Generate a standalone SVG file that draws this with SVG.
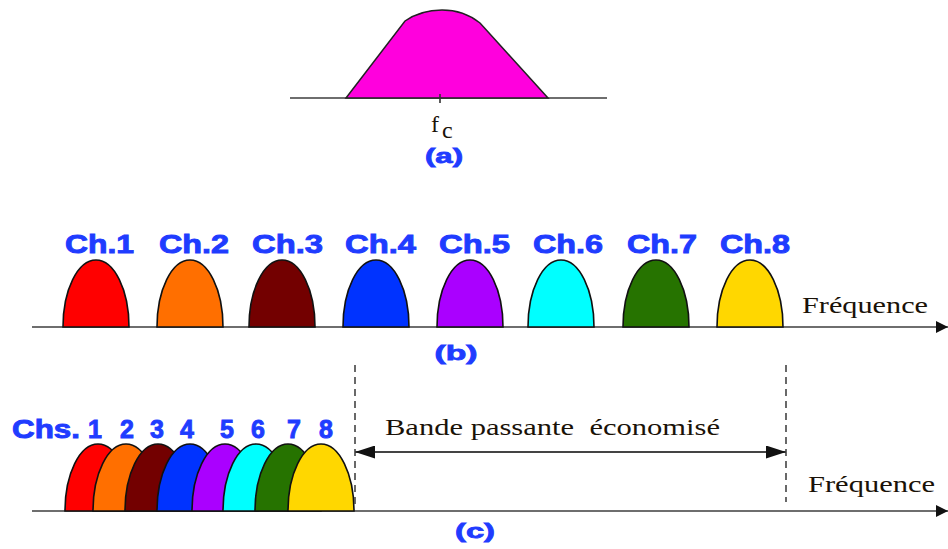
<svg xmlns="http://www.w3.org/2000/svg" width="948" height="549" viewBox="0 0 948 549">
<style>
.axis{stroke:#6e6e6e;stroke-width:2.2;fill:none}
.bell{stroke:#111;stroke-width:1.6}
.lbl{font-family:"Liberation Sans",Arial,sans-serif;font-weight:bold;font-size:25px;fill:#1f3cff;stroke:#1f3cff;stroke-width:0.9}
.cap{font-family:"Liberation Sans",Arial,sans-serif;font-weight:bold;font-size:21px;fill:#1f3cff;stroke:#1f3cff;stroke-width:0.8}
.ser{font-family:"Liberation Serif","Times New Roman",serif;font-size:24px;fill:#1a1208;white-space:pre}
.dash{stroke:#444;stroke-width:1.6;stroke-dasharray:7,5;fill:none}
</style>
<defs>
<path id="bell" d="M0,0 A33,67 0 0 1 66,0 Z"/>
<marker id="ah" markerWidth="12" markerHeight="12" refX="12" refY="6" orient="auto" markerUnits="userSpaceOnUse" viewBox="0 0 12 12">
<path d="M0,0 L12,6 L0,12 Z" fill="#111"/>
</marker>
<marker id="ah2" markerWidth="20" markerHeight="13" refX="20" refY="6.5" orient="auto-start-reverse" markerUnits="userSpaceOnUse" viewBox="0 0 20 13">
<path d="M0,0 L20,6.5 L0,13 Z" fill="#111"/>
</marker>
</defs>

<!-- (a) -->
<g id="panel-a">
<line class="axis" x1="290" y1="98" x2="607" y2="98"/>
<path d="M346,98 L405,21 C418,12 430,10 442,10 C458,10 470,15 480,23 L548,98 Z" fill="#ff00dd" stroke="#222" stroke-width="1.5"/>
<line x1="440" y1="94" x2="440" y2="103" stroke="#333" stroke-width="1.6"/>
<text x="431" y="132" class="ser" font-size="25">f</text>
<text x="442" y="138" class="ser" font-size="19" fill="#1a2a40">c</text>
<text x="444" y="163" class="cap" text-anchor="middle" textLength="38" lengthAdjust="spacingAndGlyphs">(a)</text>
</g>

<!-- (b) -->
<g id="panel-b">
<line class="axis" x1="32" y1="327" x2="948" y2="327" marker-end="url(#ah)"/>
<use href="#bell" x="63" y="327" class="bell" fill="#ff0000"/>
<use href="#bell" x="157" y="327" class="bell" fill="#ff6f00"/>
<use href="#bell" x="249" y="327" class="bell" fill="#730000"/>
<use href="#bell" x="343" y="327" class="bell" fill="#0033ff"/>
<use href="#bell" x="437" y="327" class="bell" fill="#aa00ff"/>
<use href="#bell" x="528" y="327" class="bell" fill="#00ffff"/>
<use href="#bell" x="623" y="327" class="bell" fill="#267300"/>
<use href="#bell" x="717" y="327" class="bell" fill="#ffd700"/>
<text class="lbl" x="65" y="253" textLength="69" lengthAdjust="spacingAndGlyphs">Ch.1</text>
<text class="lbl" x="159" y="253" textLength="70" lengthAdjust="spacingAndGlyphs">Ch.2</text>
<text class="lbl" x="252" y="253" textLength="71" lengthAdjust="spacingAndGlyphs">Ch.3</text>
<text class="lbl" x="345" y="253" textLength="71" lengthAdjust="spacingAndGlyphs">Ch.4</text>
<text class="lbl" x="439" y="253" textLength="71" lengthAdjust="spacingAndGlyphs">Ch.5</text>
<text class="lbl" x="533" y="253" textLength="70" lengthAdjust="spacingAndGlyphs">Ch.6</text>
<text class="lbl" x="627" y="253" textLength="70" lengthAdjust="spacingAndGlyphs">Ch.7</text>
<text class="lbl" x="720" y="253" textLength="70" lengthAdjust="spacingAndGlyphs">Ch.8</text>
<text class="ser" x="802" y="313" textLength="126" lengthAdjust="spacingAndGlyphs">Fréquence</text>
<text class="cap" x="456" y="360" text-anchor="middle" textLength="43" lengthAdjust="spacingAndGlyphs">(b)</text>
</g>

<!-- (c) -->
<g id="panel-c">
<line class="axis" x1="32" y1="511" x2="948" y2="511" marker-end="url(#ah)"/>
<use href="#bell" x="65" y="511" class="bell" fill="#ff0000"/>
<use href="#bell" x="93" y="511" class="bell" fill="#ff6f00"/>
<use href="#bell" x="125" y="511" class="bell" fill="#730000"/>
<use href="#bell" x="157" y="511" class="bell" fill="#0033ff"/>
<use href="#bell" x="192" y="511" class="bell" fill="#aa00ff"/>
<use href="#bell" x="223" y="511" class="bell" fill="#00ffff"/>
<use href="#bell" x="255" y="511" class="bell" fill="#267300"/>
<use href="#bell" x="288" y="511" class="bell" fill="#ffd700"/>
<text class="lbl" x="12" y="438" textLength="68" lengthAdjust="spacingAndGlyphs">Chs.</text>
<text class="lbl" x="95" y="438" text-anchor="middle">1</text>
<text class="lbl" x="127" y="438" text-anchor="middle">2</text>
<text class="lbl" x="157" y="438" text-anchor="middle">3</text>
<text class="lbl" x="187" y="438" text-anchor="middle">4</text>
<text class="lbl" x="227" y="438" text-anchor="middle">5</text>
<text class="lbl" x="258" y="438" text-anchor="middle">6</text>
<text class="lbl" x="294" y="438" text-anchor="middle">7</text>
<text class="lbl" x="326" y="438" text-anchor="middle">8</text>
<text class="ser" x="808" y="492" textLength="127" lengthAdjust="spacingAndGlyphs">Fréquence</text>
<text class="ser" x="385" y="435" font-size="25" textLength="335" lengthAdjust="spacingAndGlyphs">Bande passante  économisé</text>
<text class="cap" x="475" y="538" text-anchor="middle" textLength="40" lengthAdjust="spacingAndGlyphs">(c)</text>
</g>

<g id="connectors">
<line class="dash" x1="355" y1="365" x2="355" y2="505"/>
<line class="dash" x1="786" y1="365" x2="786" y2="502"/>
<line x1="355" y1="452" x2="786" y2="452" stroke="#444" stroke-width="1.8" marker-start="url(#ah2)" marker-end="url(#ah2)"/>
</g>
</svg>
